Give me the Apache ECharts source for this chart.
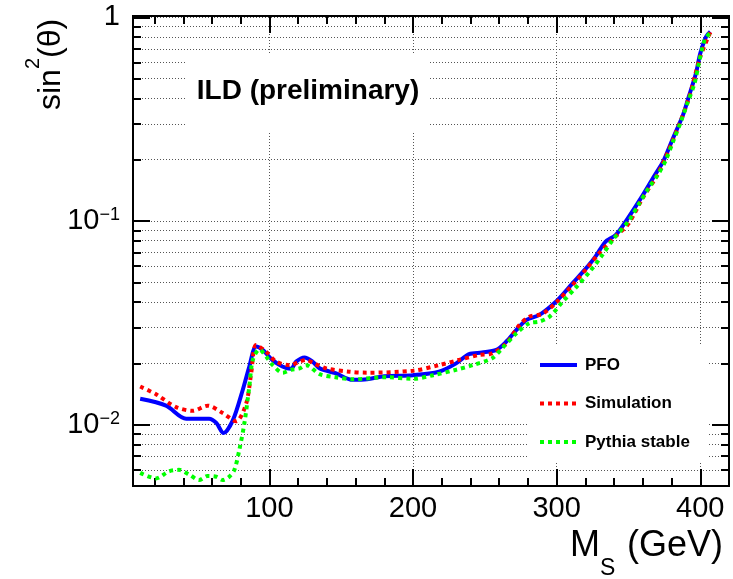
<!DOCTYPE html>
<html><head><meta charset="utf-8">
<script src="https://cdn.jsdelivr.net/npm/echarts@6/dist/echarts.min.js"></script>
<style>html,body{margin:0;padding:0;background:#fff}#c{width:733px;height:579px}</style>
</head><body><div id="c"></div>
<script>
const FONT = '"Liberation Sans", Arial, Helvetica, sans-serif';

// ---- data ----
const seriesNames = ['PFO', 'Simulation', 'Pythia stable'];

const pfoMass = [10, 28, 42, 58, 63, 68, 74.5, 81.4, 86, 90.7, 95.3, 102, 109, 115, 118.6, 124.4, 130, 135, 146, 158, 168, 180, 200, 218, 230, 239, 248, 258, 265, 272, 279, 288, 300, 311, 321.5, 327, 334, 341, 348, 360, 369, 374, 381, 388, 392, 397, 400, 404, 407];
const pfoSin2 = [0.0134, 0.0124, 0.0107, 0.0107, 0.0102, 0.0091, 0.0105, 0.0148, 0.0193, 0.0242, 0.0233, 0.0208, 0.0193, 0.0188, 0.0204, 0.0214, 0.0204, 0.0189, 0.0179, 0.0166, 0.0167, 0.0173, 0.0175, 0.0182, 0.0200, 0.0222, 0.0226, 0.0233, 0.0256, 0.0292, 0.0327, 0.0346, 0.0405, 0.0494, 0.0597, 0.0668, 0.0791, 0.0853, 0.0993, 0.134, 0.171, 0.195, 0.255, 0.332, 0.408, 0.531, 0.665, 0.802, 0.849];

const simMass = [10, 21, 35, 46.6, 57, 67.5, 76.8, 83.8, 87.3, 90.7, 97.7, 104.7, 114, 121, 125.5, 131, 139.5, 155.7, 168, 200, 218, 232, 246, 255, 265, 274, 281, 290, 300, 311, 321, 330, 341, 350, 360, 370, 381, 392, 400, 407];
const simSin2 = [0.0154, 0.0141, 0.0122, 0.0117, 0.0124, 0.0114, 0.0104, 0.0127, 0.0179, 0.0246, 0.0228, 0.0204, 0.0196, 0.0204, 0.0208, 0.0200, 0.0189, 0.0182, 0.0180, 0.0184, 0.0196, 0.0208, 0.0220, 0.0224, 0.0251, 0.0308, 0.0339, 0.0350, 0.0400, 0.0485, 0.0585, 0.070, 0.084, 0.097, 0.130, 0.168, 0.250, 0.400, 0.640, 0.845];

const pythiaMass = [10, 21, 30, 37, 44, 51, 57, 63, 67.5, 72, 75.6, 79, 82.6, 86, 88.4, 93, 97.7, 102.3, 109.3, 115, 121, 125.5, 135, 146, 158, 181, 200, 214, 230, 241.5, 255, 262, 272, 281, 288, 295, 304, 313, 323, 331, 339, 350.5, 357.5, 364, 371, 376, 381, 386.5, 391, 396, 399, 403, 407];
const pythiaSin2 = [0.0058, 0.00545, 0.0059, 0.0060, 0.0057, 0.00535, 0.0056, 0.00555, 0.00535, 0.00555, 0.0060, 0.0075, 0.0102, 0.0154, 0.0208, 0.0234, 0.0216, 0.0196, 0.0180, 0.0186, 0.0189, 0.0196, 0.0177, 0.0171, 0.0167, 0.0171, 0.0168, 0.0175, 0.0186, 0.0196, 0.0212, 0.0237, 0.0281, 0.0315, 0.0321, 0.0339, 0.0400, 0.0468, 0.0564, 0.0668, 0.0807, 0.101, 0.122, 0.145, 0.171, 0.199, 0.245, 0.307, 0.378, 0.474, 0.594, 0.773, 0.843];

// ---- tick values ----
const massMajorTicks = [100, 200, 300, 400];
const massMinorTicks = [20, 40, 60, 80, 120, 140, 160, 180, 220, 240, 260, 280, 320, 340, 360, 380];
const sinMajorTicks = [0.01, 0.1, 1];
const sinGridTicks = [0.006, 0.007, 0.008, 0.009, 0.01, 0.02, 0.03, 0.04, 0.05, 0.06, 0.07, 0.08, 0.09, 0.1, 0.2, 0.3, 0.4, 0.5, 0.6, 0.7, 0.8, 0.9, 1];

const X_MIN = 5, X_MAX = 420, Y_MIN = 0.005, Y_MAX = 1.015;

function pairs(xs, ys) { return xs.map((x, i) => [x, ys[i]]); }

const gridLine = { color: '#555', width: 1, type: [1, 2] };
const blackLine = { color: '#000', width: 2 };

function mkX(position, ticks, len, labels, split) {
  return {
    type: 'value', min: X_MIN, max: X_MAX, position: position,
    axisLine: { show: true, onZero: false, lineStyle: blackLine },
    axisTick: { show: true, inside: true, length: len, customValues: ticks, lineStyle: blackLine },
    axisLabel: { show: labels, customValues: ticks, margin: 8, fontSize: 29, color: '#000', fontFamily: FONT },
    splitLine: { show: split, lineStyle: gridLine },
    minorTick: { show: false }, minorSplitLine: { show: false }
  };
}
function yLabel(v) {
  if (Math.abs(v - 1) < 1e-9) return '1';
  return '10{sup|\u2212' + Math.round(-Math.log10(v)) + '}';
}
function mkY(position, ticks, len, labels, split) {
  return {
    type: 'log', logBase: 10, min: Y_MIN, max: Y_MAX, position: position,
    axisLine: { show: true, onZero: false, lineStyle: blackLine },
    axisTick: { show: true, inside: true, length: len, customValues: ticks, lineStyle: blackLine },
    axisLabel: {
      show: labels, customValues: ticks, margin: 13, fontSize: 29, color: '#000', fontFamily: FONT,
      formatter: yLabel,
      rich: { sup: { fontSize: 18, fontFamily: FONT, color: '#000', verticalAlign: 'top', lineHeight: 16 } }
    },
    splitLine: { show: split, lineStyle: gridLine },
    minorTick: { show: false }, minorSplitLine: { show: false }
  };
}

const dotted = [4, 4];

const option = {
  animation: false,
  backgroundColor: '#fff',
  grid: { left: 133, right: 4, top: 16, bottom: 93, containLabel: false },
  xAxis: [
    mkX('bottom', massMajorTicks, 17, true, true),
    mkX('bottom', massMinorTicks, 8, false, false),
    mkX('top', massMajorTicks, 17, false, false),
    mkX('top', massMinorTicks, 8, false, false)
  ],
  yAxis: [
    mkY('left', sinGridTicks, 8, false, true),
    mkY('left', sinMajorTicks, 17, true, false),
    mkY('right', sinGridTicks, 8, false, false),
    mkY('right', sinMajorTicks, 17, false, false)
  ],
  legend: {
    orient: 'vertical', left: 538, top: 355, padding: 0,
    itemWidth: 37, itemHeight: 14, itemGap: 18.5,
    data: seriesNames, selectedMode: false,
    itemStyle: { opacity: 0 },
    lineStyle: { width: 4 },
    textStyle: { fontSize: 17, fontWeight: 'bold', fontFamily: FONT, color: '#000', padding: [0, 0, 0, 3], lineHeight: 20 }
  },
  graphic: [
    { type: 'rect', z: 1, silent: true, shape: { x: 187, y: 53, width: 243, height: 80 }, style: { fill: '#fff' } },
    { type: 'rect', z: 1, silent: true, shape: { x: 528, y: 344, width: 181, height: 119 }, style: { fill: '#fff' } },
    { type: 'text', z: 10, x: 308, y: 91, style: { text: 'ILD (preliminary)', font: 'bold 28px ' + FONT, fill: '#000', align: 'center', textAlign: 'center', verticalAlign: 'middle', textVerticalAlign: 'middle' } },
    { type: 'text', z: 10, x: 51, y: 110, rotation: Math.PI / 2, style: { text: 'sin', font: '32px ' + FONT, fill: '#000', align: 'left', textAlign: 'left', verticalAlign: 'middle', textVerticalAlign: 'middle' } },
    { type: 'text', z: 10, x: 33, y: 69, rotation: Math.PI / 2, style: { text: '2', font: '20px ' + FONT, fill: '#000', align: 'left', textAlign: 'left', verticalAlign: 'middle', textVerticalAlign: 'middle' } },
    { type: 'text', z: 10, x: 51, y: 58, rotation: Math.PI / 2, style: { text: '(\u03b8)', font: '32px ' + FONT, fill: '#000', align: 'left', textAlign: 'left', verticalAlign: 'middle', textVerticalAlign: 'middle' } },
    { type: 'text', z: 10, x: 570, y: 546, style: { text: 'M', font: '36px ' + FONT, fill: '#000', align: 'left', textAlign: 'left', verticalAlign: 'middle', textVerticalAlign: 'middle' } },
    { type: 'text', z: 10, x: 600, y: 569, style: { text: 'S', font: '23px ' + FONT, fill: '#000', align: 'left', textAlign: 'left', verticalAlign: 'middle', textVerticalAlign: 'middle' } },
    { type: 'text', z: 10, x: 723, y: 546, style: { text: '(GeV)', font: '36px ' + FONT, fill: '#000', align: 'right', textAlign: 'right', verticalAlign: 'middle', textVerticalAlign: 'middle' } }
  ],
  series: [
    { name: seriesNames[0], type: 'line', xAxisIndex: 0, yAxisIndex: 0, z: 2, data: pairs(pfoMass, pfoSin2),
      symbol: 'none', showSymbol: false, smooth: 0.3,
      lineStyle: { color: '#0000ff', width: 4 }, itemStyle: { color: '#0000ff' } },
    { name: seriesNames[1], type: 'line', xAxisIndex: 0, yAxisIndex: 0, z: 3, data: pairs(simMass, simSin2),
      symbol: 'none', showSymbol: false, smooth: 0.3,
      lineStyle: { color: '#ff0000', width: 4, type: dotted, cap: 'butt' }, itemStyle: { color: '#ff0000' } },
    { name: seriesNames[2], type: 'line', xAxisIndex: 0, yAxisIndex: 0, z: 4, data: pairs(pythiaMass, pythiaSin2),
      symbol: 'none', showSymbol: false, smooth: 0.3,
      lineStyle: { color: '#00ff00', width: 4, type: dotted, cap: 'butt' }, itemStyle: { color: '#00ff00' } }
  ]
};

const chart = echarts.init(document.getElementById('c'), null, { renderer: 'canvas' });
chart.setOption(option);
</script>
</body></html>
